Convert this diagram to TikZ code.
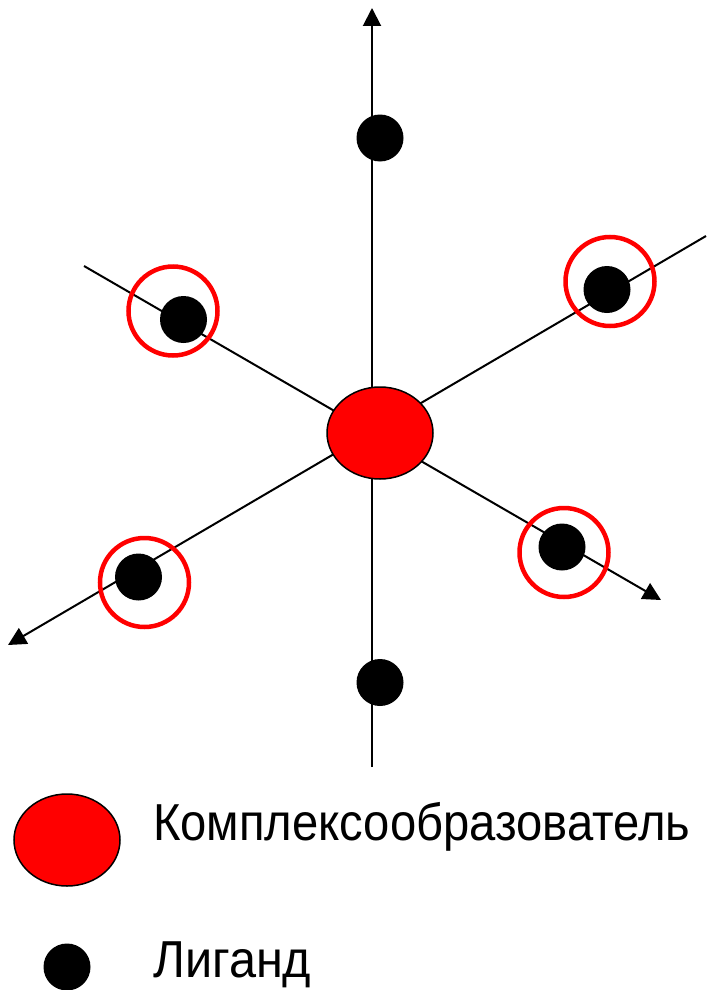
\documentclass[tikz,border=0pt]{standalone}
\usepackage{fontspec}
\setmainfont{Liberation Sans}
\usetikzlibrary{arrows.meta,shapes.geometric}
\begin{document}
\begin{tikzpicture}[x=1pt,y=-1pt,
  axis/.style={line width=2pt,draw=black},
  tip/.style={-{Triangle[length=18pt,width=18pt]}},
  ligand/.style={circle,fill=black,inner sep=0pt,minimum size=47pt},
  ring/.style={circle,draw=red,line width=4.5pt,inner sep=0pt,minimum size=89pt},
  metal/.style={ellipse,draw=black,fill=red,line width=1.5pt,inner sep=0pt,minimum width=106pt,minimum height=92pt},
  label/.style={anchor=base west,inner sep=0pt,font=\fontsize{52}{60}\selectfont}
]
\useasboundingbox (0,0) rectangle (707,990);
% axis end points
\coordinate (vtop) at (372,8);
\coordinate (vbot) at (372,767);
\coordinate (aul) at (84,266);
\coordinate (alr) at (661,600);
\coordinate (aur) at (706,236);
\coordinate (all) at (8,645);
% axes
\draw[axis,tip] (vbot) -- (vtop);
\draw[axis,tip] (aul) -- (alr);
\draw[axis,tip] (aur) -- (all);
% central atom
\node[metal] (m) at (380,433) {};
% ligands
\node[ligand] (lt) at (380,138) {};
\node[ligand] (lb) at (380,682.5) {};
\node[ligand] (lul) at (183.5,319.5) {};
\node[ligand] (lur) at (607,289.5) {};
\node[ligand] (lll) at (138.5,577) {};
\node[ligand] (llr) at (562,547) {};
% rings
\node[ring] (rul) at (173,311) {};
\node[ring] (rur) at (610,281.5) {};
\node[ring] (rll) at (144.5,582.5) {};
\node[ring] (rlr) at (564,552.5) {};
% legend
\node[metal] (km) at (67,840) {};
\node[label] (tk) at (153,840) {\resizebox{537pt}{\height}{Комплексообразователь}};
\node[ligand] (kl) at (67,967) {};
\node[label] (tl) at (153,977) {\resizebox{158pt}{\height}{Лиганд}};
\end{tikzpicture}
\end{document}
